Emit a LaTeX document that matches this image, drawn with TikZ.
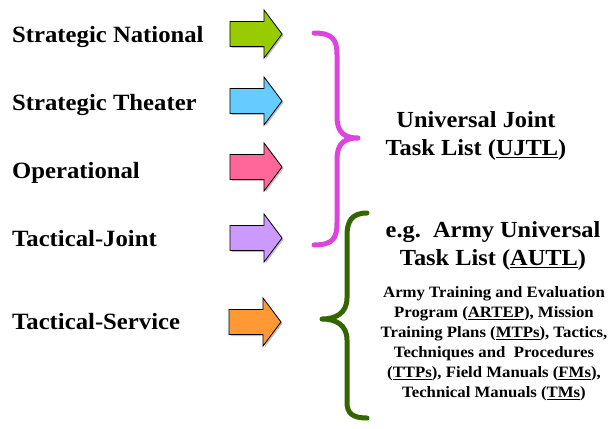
\documentclass[tikz,border=0pt]{standalone}
\usepackage{fontspec}
\setmainfont{Liberation Serif}[FakeStretch=1.06]
\begin{document}
\begin{tikzpicture}[x=1pt,y=-1pt,
  lvl/.style={anchor=base west,inner sep=0pt,font=\fontsize{23.3}{27}\selectfont\bfseries},
  bigtxt/.style={align=center,inner sep=0pt,font=\fontsize{23}{28}\selectfont\bfseries},
  smalltxt/.style={align=center,inner sep=0pt,font=\fontsize{15.8}{20}\selectfont\bfseries},
  fatarrow/.style={draw=black,line width=0.8pt,line join=miter},
  arrowshade/.style={fill=black!25,draw=none},
  brace/.style={line width=5pt,line cap=round,line join=round}]
\useasboundingbox[fill=white] (0,0) rectangle (609,428);

% block arrow: #1 fill colour, #2 left x, #3 centre y
\newcommand\blockarrow[3]{%
  \fill[arrowshade] (#2+1.5,#3-11) -- (#2+35.5,#3-11) -- (#2+35.5,#3-22.5) -- (#2+53.5,#3+1.5) -- (#2+35.5,#3+25.5) -- (#2+35.5,#3+14) -- (#2+1.5,#3+14) -- cycle;
  \draw[fatarrow,fill=#1] (#2,#3-12.5) -- (#2+34,#3-12.5) -- (#2+34,#3-24) -- (#2+52,#3) -- (#2+34,#3+24) -- (#2+34,#3+12.5) -- (#2,#3+12.5) -- cycle;}

\definecolor{cgreen}{HTML}{99CC00}
\definecolor{cblue}{HTML}{66CCFF}
\definecolor{cpink}{HTML}{FF6699}
\definecolor{cpurple}{HTML}{CC99FF}
\definecolor{corange}{HTML}{FF9933}
\definecolor{bracepink}{HTML}{DD44DD}
\definecolor{bracegreen}{HTML}{336600}

% level labels
\node[lvl] (sn) at (12,43) {Strategic National};
\node[lvl] (st) at (12,110) {Strategic Theater};
\node[lvl] (op) at (12,178) {Operational};
\node[lvl] (tj) at (12,246) {Tactical-Joint};
\node[lvl] (ts) at (12,329) {Tactical-Service};

% arrows
\blockarrow{cgreen}{230}{34}
\blockarrow{cblue}{230}{101}
\blockarrow{cpink}{230}{167}
\blockarrow{cpurple}{230}{238}
\blockarrow{corange}{229}{322}

% braces
\draw[brace,bracepink] (314,33) .. controls (333,33) and (337,40) .. (337,55) -- (337,117)
  .. controls (337,133) and (345,138) .. (358,138)
  .. controls (345,138) and (337,143) .. (337,159) -- (337,223)
  .. controls (337,238) and (333,245) .. (314,245);
\draw[brace,bracegreen] (367,213) .. controls (351,213) and (347,222) .. (347,236) -- (347,298)
  .. controls (347,313) and (336,319) .. (322,319)
  .. controls (336,319) and (347,325) .. (347,340) -- (347,402)
  .. controls (347,413) and (352,418) .. (367,418);

% texts
\node[bigtxt] (ujtl) at (476,136) {Universal Joint\\Task List (\underline{UJTL})};
\node[bigtxt] (autl) at (493,246) {e.g.\ \ Army Universal\\Task List (\underline{AUTL})};
\node[smalltxt] (docs) at (494,344) {Army Training and Evaluation\\
  Program (\underline{ARTEP}), Mission\\
  Training Plans (\underline{MTPs}), Tactics,\\
  Techniques and\ \ Procedures\\
  (\underline{TTPs}), Field Manuals (\underline{FMs}),\\
  Technical Manuals (\underline{TMs})};
\end{tikzpicture}
\end{document}
